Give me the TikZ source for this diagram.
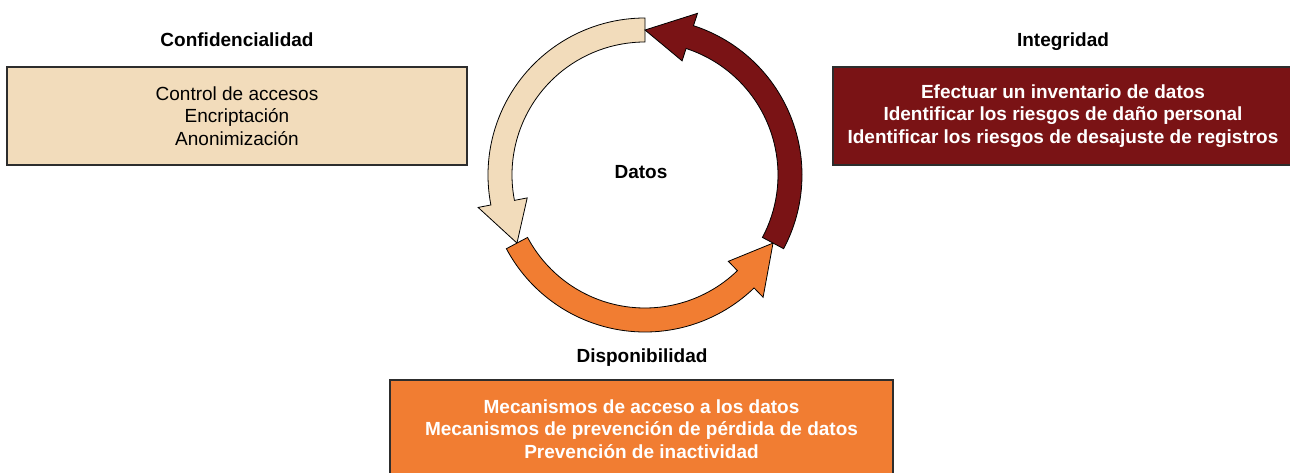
\documentclass[tikz,border=0pt]{standalone}
\usepackage{fontspec}
\setmainfont{Liberation Sans}
\definecolor{beige}{RGB}{242,220,187}
\definecolor{darkred}{RGB}{122,19,21}
\definecolor{orng}{RGB}{241,125,50}
\definecolor{edge}{RGB}{45,45,45}
\newcommand{\circarrow}[4]{%
  \filldraw[fill=#1, draw=black, line width=0.8pt, line join=miter]
    (#2:157) arc[start angle=#2, end angle=#3, radius=157]
    -- (#3:170) -- (#4:145) -- (#3:120) -- (#3:133)
    arc[start angle=#3, end angle=#2, radius=133] -- cycle;}
\begin{document}
\begin{tikzpicture}[x=1pt, y=1pt,
  box/.style={draw=edge, line width=1.1pt, inner sep=0pt, align=center,
    font=\fontsize{19}{22.5}\selectfont},
  boldbox/.style={box, text=white, font=\fontsize{19}{22.5}\selectfont\bfseries},
  lab/.style={font=\fontsize{19}{22.5}\selectfont\bfseries, anchor=base, inner sep=0pt}]
\useasboundingbox (0,0) rectangle (1290,472);
% boxes
\node[box, fill=beige, minimum width=460, minimum height=98] (conf) at (237,356)
  {Control de accesos\\Encriptación\\Anonimización};
\node[boldbox, fill=darkred, minimum width=466, minimum height=98] (integ) at (1066,356)
  {\hspace*{-6pt}Efectuar un inventario de datos\\\hspace*{-6pt}Identificar los riesgos de daño personal\\\hspace*{-6pt}Identificar los riesgos de desajuste de registros};
\node[boldbox, fill=orng, minimum width=503, minimum height=98] (disp) at (641.5,43)
  {Mecanismos de acceso a los datos\\Mecanismos de prevención de pérdida de datos\\Prevención de inactividad};
% labels
\node[lab] (lconf) at (237,425) {Confidencialidad};
\node[lab] (linteg) at (1063,425) {Integridad};
\node[lab] (ldisp) at (642,110) {Disponibilidad};
\node[lab] (datos) at (641,294) {Datos};
% circular arrows
\begin{scope}[shift={(645,297)}]
  \circarrow{beige}{90}{191}{208}
  \circarrow{orng}{208}{314}{332}
  \circarrow{darkred}{332}{432}{450}
\end{scope}
\end{tikzpicture}
\end{document}
